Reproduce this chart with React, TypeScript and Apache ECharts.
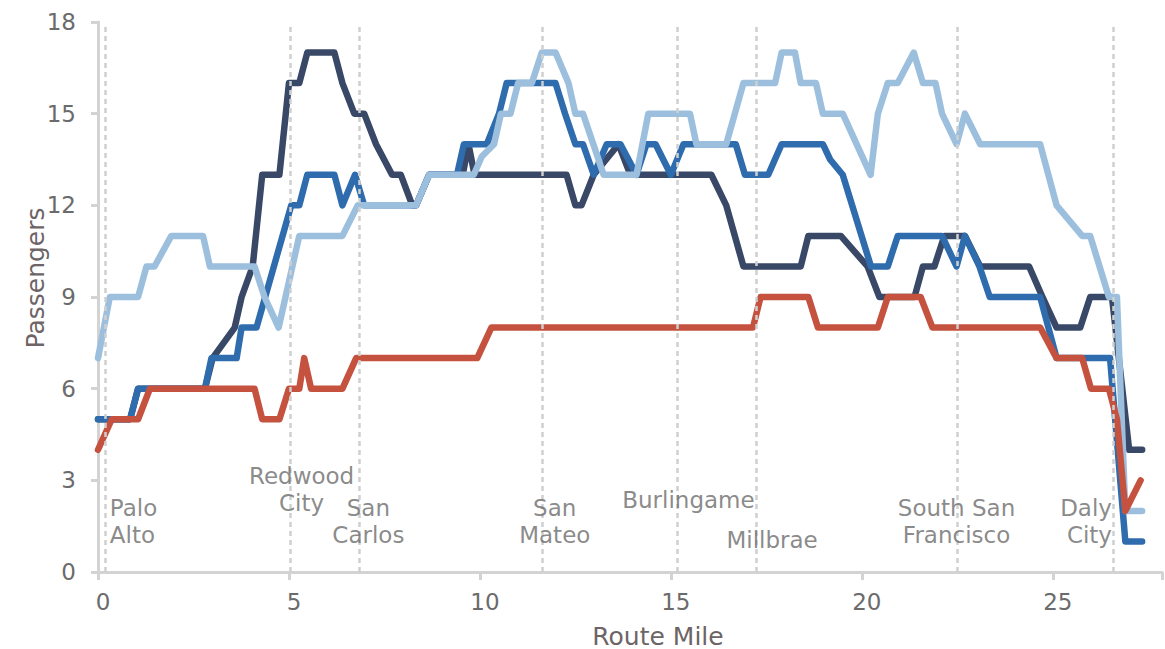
import React, { useEffect, useRef } from "react";
import * as echarts from "echarts";

// ---- Data ----
const stationNames = [
  "Palo\nAlto",
  "Redwood\nCity",
  "San\nCarlos",
  "San\nMateo",
  "Burlingame",
  "Millbrae",
  "South San\nFrancisco",
  "Daly\nCity",
];
const stationMiles = [0.18, 5.03, 6.85, 11.64, 15.17, 17.24, 22.5, 26.58];

const navyMiles = [0, 0.84, 1.05, 2.8, 3.0, 3.58, 3.76, 4.05, 4.3, 4.75, 5.0, 5.27, 5.48, 6.19, 6.4, 6.71, 6.97, 7.28, 7.7, 7.93, 8.23, 8.33, 8.67, 9.55, 9.7, 9.86, 12.27, 12.5, 12.66, 12.98, 13.63, 13.94, 16.06, 16.45, 16.9, 18.4, 18.6, 19.45, 20.15, 20.46, 21.38, 21.6, 21.9, 22.16, 22.7, 23.1, 24.38, 24.73, 25.1, 25.72, 25.98, 26.55, 27.0, 27.34];
const navyPax = [5, 5, 6, 6, 7, 8, 9, 10, 13, 13, 16, 16, 17, 17, 16, 15, 15, 14, 13, 13, 12, 12, 13, 13, 14, 13, 13, 12, 12, 13, 14, 13, 13, 12, 10, 10, 11, 11, 10, 9, 9, 10, 10, 11, 11, 10, 10, 9, 8, 8, 9, 9, 4, 4];

const blueMiles = [0, 0.84, 1.05, 2.8, 2.97, 3.63, 3.76, 4.15, 5.06, 5.27, 5.48, 6.19, 6.4, 6.73, 6.97, 8.33, 8.67, 9.4, 9.58, 10.18, 10.5, 10.7, 11.98, 12.23, 12.5, 12.7, 12.98, 13.32, 13.68, 14.1, 14.36, 14.6, 15.0, 15.33, 16.7, 16.94, 17.55, 17.9, 18.98, 19.17, 19.5, 20.24, 20.68, 20.94, 22.1, 22.48, 22.7, 23.08, 23.35, 24.67, 25.1, 26.5, 26.9, 27.34];
const bluePax = [5, 5, 6, 6, 7, 7, 8, 8, 12, 12, 13, 13, 12, 13, 12, 12, 13, 13, 14, 14, 15, 16, 16, 15, 14, 14, 13, 14, 14, 13, 14, 14, 13, 14, 14, 13, 13, 14, 14, 13.5, 13, 10, 10, 11, 11, 10, 11, 10, 9, 9, 7, 7, 1, 1];

const lightMiles = [0, 0.31, 1.05, 1.27, 1.48, 1.92, 2.75, 2.93, 4.1, 4.36, 4.73, 5.27, 6.4, 6.8, 8.33, 8.67, 9.84, 10.05, 10.37, 10.55, 10.8, 11.0, 11.36, 11.62, 11.98, 12.32, 12.5, 12.7, 13.24, 14.1, 14.41, 15.5, 15.67, 16.45, 16.9, 17.73, 17.9, 18.25, 18.4, 18.8, 18.98, 19.5, 20.23, 20.42, 20.68, 20.94, 21.36, 21.6, 21.93, 22.1, 22.48, 22.7, 23.1, 24.67, 25.1, 25.77, 25.98, 26.47, 26.68, 26.9, 27.34];
const lightPax = [7, 9, 9, 10, 10, 11, 11, 10, 10, 9, 8, 11, 11, 12, 12, 13, 13, 13.6, 14, 15, 15, 16, 16, 17, 17, 16, 15, 15, 13, 13, 15, 15, 14, 14, 16, 16, 17, 17, 16, 16, 15, 15, 13, 15, 16, 16, 17, 16, 16, 15, 14, 15, 14, 14, 12, 11, 11, 9, 9, 2, 2];

const redMiles = [0, 0.36, 1.05, 1.36, 4.1, 4.3, 4.75, 5.0, 5.27, 5.4, 5.58, 6.4, 6.76, 9.93, 10.3, 17.15, 17.35, 18.6, 18.85, 20.42, 20.68, 21.54, 21.85, 24.67, 25.1, 25.77, 26.0, 26.47, 26.68, 26.9, 27.3];
const redPax = [4, 5, 5, 6, 6, 5, 5, 6, 6, 7, 6, 6, 7, 7, 8, 8, 9, 9, 8, 8, 9, 9, 8, 8, 7, 7, 6, 6, 5, 2, 3];

const yTicks = [0, 3, 6, 9, 12, 15, 18];
const xTicks = [0, 5, 10, 15, 20, 25];

// ---- Layout / style (not data) ----
const FONT = "DejaVu Sans";
const TEXT = "#6b6b6b";
const AXIS = "#d3d3d3";
const labelAnchors = [
  { dx: 0.13, y: 1.65, align: "left" },
  { dx: 0.3, y: 2.69, align: "center" },
  { dx: 0.23, y: 1.65, align: "center" },
  { dx: 0.32, y: 1.65, align: "center" },
  { dx: 0.29, y: 2.37, align: "center" },
  { dx: 0.41, y: 1.06, align: "center" },
  { dx: -0.02, y: 1.65, align: "center" },
  { dx: -0.03, y: 1.65, align: "right" },
];

const pairs = (xs: number[], ys: number[]) => xs.map((x, i) => [x, ys[i]]);

function lineSeries(name: string, xs: number[], ys: number[], color: string, extra: any = {}) {
  return {
    name,
    type: "line",
    data: pairs(xs, ys),
    showSymbol: false,
    symbol: "none",
    silent: true,
    lineStyle: { color, width: 6.5, join: "round", cap: "round" },
    ...extra,
  };
}

export default function App() {
  const ref = useRef<HTMLDivElement>(null);
  useEffect(() => {
    if (!ref.current) return;
    const chart = echarts.init(ref.current, undefined, { renderer: "svg" });
    const option: any = {
      animation: false,
      backgroundColor: "#ffffff",
      grid: { left: 98, right: 0, top: 22, bottom: 77, containLabel: false },
      xAxis: {
        type: "value",
        min: 0,
        max: 27.86,
        interval: 5,
        showMaxLabel: false,
        splitLine: { show: false },
        axisLine: { show: true, lineStyle: { color: AXIS, width: 3 } },
        axisTick: { show: true, length: 8, lineStyle: { color: AXIS, width: 3 } },
        axisLabel: {
          color: TEXT,
          fontSize: 23,
          fontFamily: FONT,
          margin: 18,
          padding: [0, 0, 0, 10],
          formatter: (v: number) => (xTicks.includes(v) ? String(v) : ""),
        },
      },
      yAxis: {
        type: "value",
        min: 0,
        max: 18,
        interval: 3,
        splitLine: { show: false },
        axisLine: { show: true, lineStyle: { color: AXIS, width: 3 } },
        axisTick: { show: true, length: 7, lineStyle: { color: AXIS, width: 3 } },
        axisLabel: {
          color: TEXT,
          fontSize: 23,
          fontFamily: FONT,
          margin: 22,
          formatter: (v: number) => (yTicks.includes(v) ? String(v) : ""),
        },
      },
      graphic: [
        {
          type: "text",
          x: 35,
          y: 278,
          rotation: Math.PI / 2,
          style: {
            text: "Passengers",
            fill: "#6d6466",
            fontSize: 25,
            fontFamily: FONT,
            textAlign: "center",
            textVerticalAlign: "middle",
          },
        },
        {
          type: "text",
          x: 658,
          y: 636,
          style: {
            text: "Route Mile",
            fill: "#6d6466",
            fontSize: 25,
            fontFamily: FONT,
            textAlign: "center",
            textVerticalAlign: "middle",
          },
        },
      ],
      series: [
        lineSeries("Navy", navyMiles, navyPax, "#394867"),
        lineSeries("Blue", blueMiles, bluePax, "#2f6cae"),
        lineSeries("Light", lightMiles, lightPax, "#9dbfde"),
        lineSeries("Red", redMiles, redPax, "#c4523f", {
          markLine: {
            silent: true,
            symbol: "none",
            label: { show: false },
            lineStyle: { color: "#cfcfcf", width: 2.5, type: [5, 4] },
            data: stationMiles.map((m) => [
              { coord: [m, 0] },
              { coord: [m, 17.85] },
            ]),
          },
        }),
        {
          name: "Stations",
          type: "scatter",
          silent: true,
          symbolSize: 0,
          z: 10,
          data: stationNames.map((n, i) => ({
            name: n,
            value: [stationMiles[i] + labelAnchors[i].dx, labelAnchors[i].y],
            label: { align: labelAnchors[i].align },
          })),
          label: {
            show: true,
            position: "inside",
            formatter: "{b}",
            color: TEXT,
            fontSize: 23,
            lineHeight: 27,
            fontFamily: FONT,
            verticalAlign: "middle",
          },
        },
      ],
    };
    chart.setOption(option);
    return () => chart.dispose();
  }, []);
  return (
    <div
      ref={ref}
      style={{ position: "fixed", left: 0, top: 0, width: 1165, height: 649 }}
    />
  );
}
